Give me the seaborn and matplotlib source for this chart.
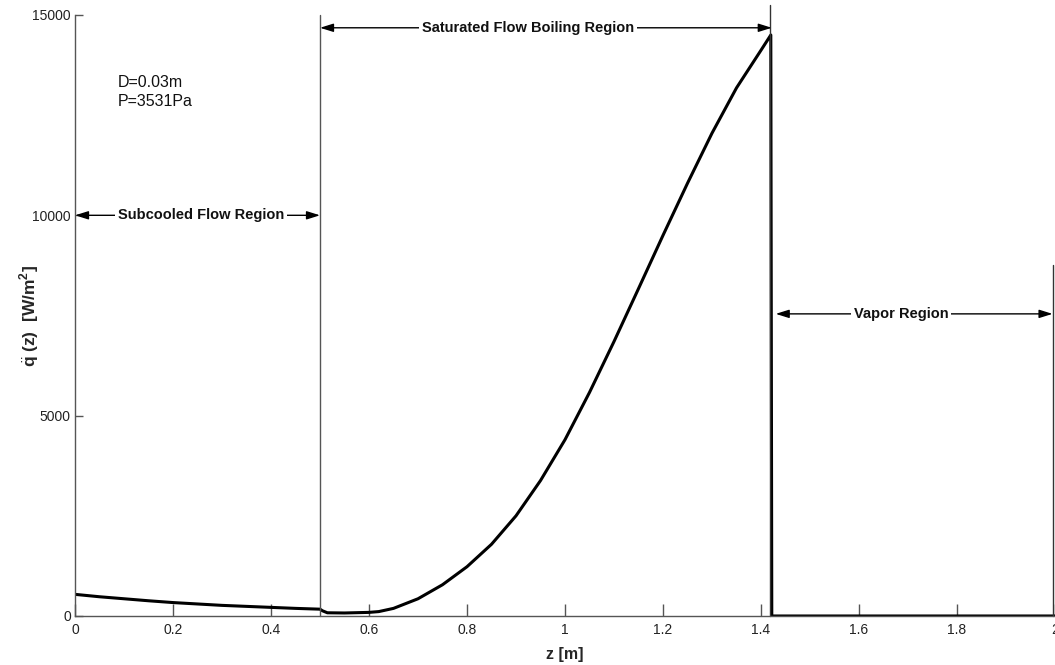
import numpy as np
import pandas as pd
import matplotlib
matplotlib.use('Agg')
import matplotlib.pyplot as plt
import seaborn as sns

# values
z_m = [0.0, 0.05, 0.1, 0.15, 0.2, 0.25, 0.3, 0.35, 0.4, 0.45, 0.5, 0.505,
       0.515, 0.55, 0.6, 0.62, 0.65, 0.7, 0.75, 0.8, 0.85, 0.9, 0.95, 1.0,
       1.05, 1.1, 1.15, 1.2, 1.25, 1.3, 1.35, 1.4, 1.42, 1.422, 2.0]
q_flux = [540, 480, 430, 380, 335, 300, 265, 240, 215, 190, 170, 130,
          80, 75, 90, 110, 190, 430, 780, 1230, 1790, 2500, 3380, 4400,
          5580, 6850, 8170, 9500, 10800, 12050, 13180, 14120, 14500, 0, 0]

z_sub_end = 0.5
z_sat_end = 1.422
z_vap_end = 1.995

regions = ["Subcooled Flow Region", "Saturated Flow Boiling Region", "Vapor Region"]
region_y = [10000, 14680, 7540]
region_x = [(0.0, z_sub_end), (z_sub_end, z_sat_end), (1.43, z_vap_end)]
region_text_x = [0.257, 0.924, 1.686]

sns.set_style("ticks")
plt.rcParams['font.family'] = ['Liberation Sans', 'DejaVu Sans']
plt.rcParams['mathtext.fontset'] = 'custom'
plt.rcParams['mathtext.rm'] = 'Liberation Sans'
plt.rcParams['mathtext.bf'] = 'Liberation Sans:bold'

fig = plt.figure(figsize=(10.55, 6.65), dpi=100)
ax = fig.add_axes([0.0711, 0.0737, 0.9289, 0.9038])

df = pd.DataFrame({'z': z_m, 'q': q_flux})
sns.lineplot(data=df, x='z', y='q', color='black', lw=2.2, sort=False,
             estimator=None, ax=ax)

# region boundaries
ax.plot([z_sub_end, z_sub_end], [0, 15000], color='#555555', lw=1, clip_on=False)
ax.plot([z_sat_end - 0.003, z_sat_end - 0.003], [0, 15250], color='#333333', lw=1,
        clip_on=False)
ax.plot([z_vap_end, z_vap_end], [0, 8760], color='#333333', lw=1, clip_on=False)

for label, yv, (x0, x1), xt in zip(regions, region_y, region_x, region_text_x):
    ax.annotate('', xy=(x0, yv), xytext=(x1, yv),
                arrowprops=dict(arrowstyle='<|-|>,head_length=0.8,head_width=0.25',
                                color='black', lw=1, shrinkA=0, shrinkB=0))
    ax.text(xt, yv, label, ha='center', va='center', fontsize=10.5,
            fontweight='bold', color='#111111',
            bbox=dict(facecolor='white', edgecolor='none', pad=2))

ax.text(0.088, 13500, "D=0.03m\nP=3531Pa", ha='left', va='top', fontsize=11.5,
        linespacing=1.3, color='#111111')

ax.set_xlim(0, 2)
ax.set_ylim(0, 15000)
ax.set_xticks(np.arange(0, 2.01, 0.2))
ax.set_xticklabels(['0', '0.2', '0.4', '0.6', '0.8', '1', '1.2', '1.4', '1.6', '1.8', '2'])
ax.set_yticks([0, 5000, 10000, 15000])
ax.set_yticklabels(['0', '5000', '10000', '15000'])
ax.tick_params(direction='in', length=9, width=1, color='#555555', labelsize=10,
               labelcolor='#222222', pad=5)
ax.tick_params(axis='y', length=6, pad=3)

sns.despine(ax=ax)
for s in ['left', 'bottom']:
    ax.spines[s].set_color('#555555')
    ax.spines[s].set_linewidth(1)

ax.set_xlabel('z [m]', fontsize=11.5, fontweight='bold', labelpad=7)
ax.set_ylabel(r'$\ddot{\mathbf{q}}$ (z)  [W/m$^{\mathbf{2}}$]', fontsize=12.5,
              fontweight='bold')
ax.yaxis.set_label_coords(-0.035, 0.5)

plt.savefig('out.png', dpi=100)
